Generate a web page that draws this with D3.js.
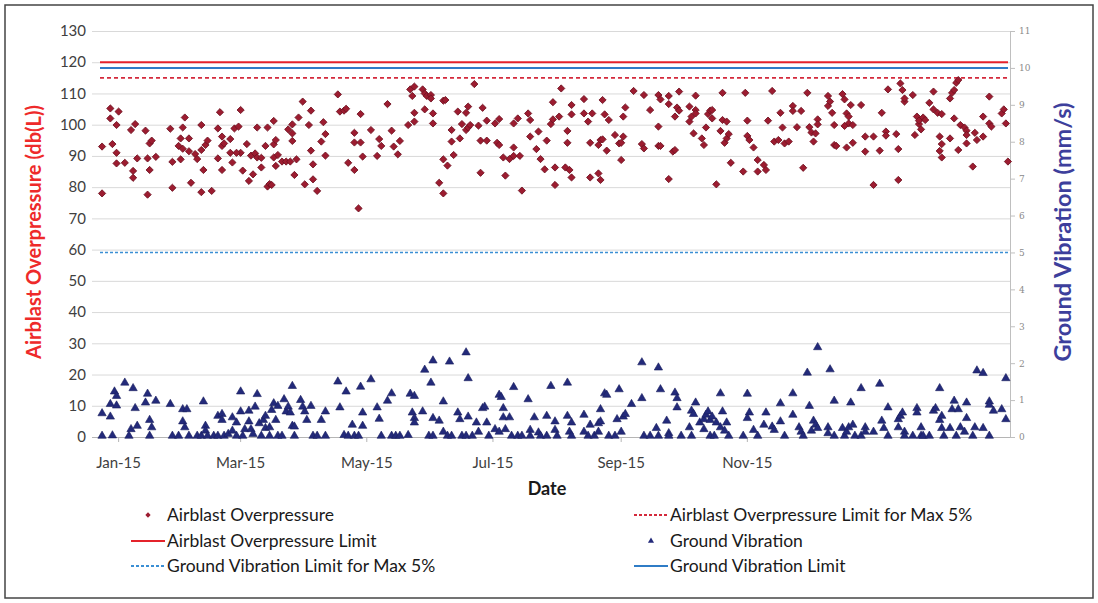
<!DOCTYPE html>
<html>
<head>
<meta charset="utf-8">
<script src="https://cdn.jsdelivr.net/npm/d3@7"></script>
<style>
  body { margin: 0; background: #fff; }
  svg { display: block; font-family: Lato, "Open Sans", sans-serif; }
</style>
</head>
<body>
<div id="chart"></div>
<script>
// day offsets from 1 Jan 2015, value
const startDate = new Date(2015, 0, 1);
const xDomainDays = [-9, 431];
const xTickLabels = ["Jan-15", "Mar-15", "May-15", "Jul-15", "Sep-15", "Nov-15"];
const xTickMonths = [0, 2, 4, 6, 8, 10];
const leftTicks = d3.range(0, 131, 10);
const rightTicks = d3.range(0, 12, 1);

const airblastLimit = 120;
const airblastLimit5 = 115;
const vibrationLimit = 10;
const vibrationLimit5 = 5;

const airblast = [
  [-8,93.0],[-8,78.0],[-4,105.2],[-4,102.0],[-1,99.9],[-3,93.8],[-1,91.0],[-1,87.6],[0,104.2],[3,87.8],[6,98.3],[7,85.2],[7,83.0],[8,100.2],[9,89.2],[13,98.1],[14,89.2],[14,77.6],[15,94.0],[16,94.9],[15,85.5],[18,89.7],[25,98.7],[26,88.1],[26,79.8],[30,95.6],[29,93.2],[30,88.9],[31,99.1],[32,102.3],[31,92.3],[34,95.6],[34,91.5],[35,81.4],[37,90.6],[38,89.0],[40,99.9],[41,85.5],[40,78.4],[40,91.9],[42,93.5],[43,94.9],[45,78.8],[48,98.8],[48,89.2],[49,104.0],[50,93.2],[50,96.2],[50,85.5],[51,94.0],[54,95.4],[54,91.0],[55,87.9],[56,98.8],[58,99.4],[59,104.7],[59,91.0],[57,91.0],[60,85.3],[62,93.8],[63,82.0],[64,90.1],[65,84.1],[66,90.8],[67,99.1],[67,89.5],[69,86.3],[69,89.4],[71,93.2],[72,80.2],[73,81.0],[74,80.7],[72,99.1],[75,101.2],[75,89.5],[75,93.7],[76,95.1],[76,86.8],[77,90.3],[79,88.2],[81,88.2],[82,98.5],[83,88.2],[84,97.2],[84,94.8],[84,100.1],[85,83.9],[86,88.9],[87,102.3],[89,107.4],[90,80.9],[92,99.9],[93,104.5],[93,91.7],[94,87.3],[94,82.5],[96,78.8],[98,94.6],[99,100.8],[100,97.0],[100,90.1],
  [106,109.7],[107,104.2],[109,104.5],[110,105.1],[111,87.8],[114,97.4],[114,94.3],[114,85.5],[117,103.4],[117,94.3],[118,89.8],[116,73.2],[122,98.3],[125,90.0],[126,95.4],[127,93.2],[130,106.6],[132,98.1],[133,93.0],[135,90.5],[136,94.8],[140,99.9],[141,111.3],[143,112.2],[142,109.2],[143,103.8],[143,101.0],[147,111.3],[148,110.0],[148,104.9],[149,109.2],[151,109.5],[151,108.4],[152,103.6],[152,100.4],[155,81.4],[157,88.9],[157,78.0],[157,107.7],[158,107.9],[159,86.9],[161,94.6],[161,98.3],[162,90.3],[164,104.2],[165,95.6],[166,100.2],[168,103.8],[168,98.3],[169,105.8],[169,99.1],[170,99.9],[172,113.0],[174,99.7],[175,94.9],[175,84.6],[176,105.4],[178,101.3],[178,94.9],[182,100.4],[183,94.2],[184,93.5],[184,101.8],[186,89.5],[187,83.7],[189,89.0],[191,100.4],[191,92.7],[191,90.0],[193,102.0],[194,90.0],[195,78.9],[198,103.6],[199,101.5],[199,96.2],[202,92.2],[203,97.8],[204,89.0],[206,85.7],[207,94.9],[209,100.2],[210,107.2],[210,101.7],[211,86.3],[211,80.7],[213,102.6],
  [214,111.6],[216,86.3],[217,98.0],[217,94.2],[218,85.5],[219,83.1],[219,106.3],[219,103.3],[225,108.2],[225,103.6],[227,101.0],[228,94.2],[228,83.1],[229,103.6],[232,84.4],[232,93.5],[233,82.3],[233,95.1],[234,95.3],[234,107.9],[235,103.3],[236,91.7],[237,101.5],[240,96.7],[242,94.0],[243,94.2],[244,96.2],[243,88.7],[244,102.6],[245,105.5],[249,110.8],[253,93.8],[254,92.4],[254,109.5],[257,104.7],[261,99.4],[261,109.5],[261,93.2],[262,108.1],[262,93.2],[266,109.2],[266,106.6],[266,82.6],[268,91.4],[269,91.9],[269,102.6],[270,105.5],[271,104.5],[271,110.6],[276,105.8],[276,101.0],[277,102.6],[278,97.2],[279,104.7],[279,109.3],[279,103.6],[282,95.6],[283,93.5],[284,99.1],[285,103.4],[286,104.5],[287,102.0],[287,104.7],[289,80.9],[291,98.0],[292,110.2],[292,101.5],[293,94.2],[294,95.6],[294,101.0],[295,97.0],[296,87.8],[302,85.0],[303,110.2],[304,96.4],[304,101.3],[305,95.1],[307,92.7],[309,88.7],[309,85.0],[312,87.1],[313,85.5],[314,101.3],[316,110.8],[317,94.6],[319,95.1],[320,103.8],[321,99.1],[322,94.0],[324,94.6],
  [326,106.0],[326,104.4],[328,99.2],[330,104.4],[331,86.2],[333,110.2],[334,99.2],[335,97.5],[336,94.6],[337,97.2],[338,101.7],[338,100.1],[343,109.2],[343,106.0],[344,107.4],[345,103.8],[346,93.5],[346,99.9],[347,93.2],[350,109.8],[351,108.1],[352,92.7],[352,103.6],[353,100.4],[354,106.3],[355,99.9],[355,94.2],[351,99.6],[353,102.6],[359,106.3],[361,96.2],[361,91.4],[365,96.2],[365,80.7],[368,91.7],[369,103.8],[372,111.3],[371,97.8],[371,96.5],[376,97.0],[377,92.2],[377,82.3],[378,113.2],[379,111.1],[380,107.4],[380,108.4],[384,109.5],[385,96.7],[386,102.6],[387,100.2],[388,98.5],[387,101.3],[389,102.3],[390,101.5],[392,107.0],[394,110.6],[394,104.9],[396,103.8],[397,96.2],[398,103.4],[398,93.8],[397,91.6],[398,89.5],[402,95.6],[402,108.4],[403,110.2],[404,111.1],[405,113.4],[406,114.3],[404,102.0],[406,91.9],[407,99.9],[409,99.1],[410,98.1],[410,94.0],[410,96.7],[413,86.6],[414,97.4],[415,95.1],[418,102.6],[418,96.2],[421,100.4],[421,109.0],[422,99.4],[427,103.6],[428,104.9],[429,100.4],[430,88.2]
];

const vibration = [
  [-8,0.64],[-8,0.03],[-4,0.89],[-4,0.55],[-3,0.04],[-2,1.23],[-1,0.85],[-1,1.11],[3,1.47],[5,0.03],[6,0.21],[7,1.32],[8,0.78],[9,0.30],[13,0.93],[14,1.17],[15,0.03],[15,0.46],[16,0.26],[18,0.98],[25,0.89],[26,0.03],[29,0.03],[31,0.75],[31,0.42],[32,0.26],[33,0.75],[34,0.03],[38,0.03],[40,0.03],[41,0.96],[42,0.30],[42,0.17],[43,0.03],[46,0.03],[48,0.57],[48,0.03],[50,0.62],[50,0.46],[51,0.03],[53,0.08],[55,0.17],[55,0.53],[57,0.03],[57,0.39],[59,1.23],[59,0.69],[60,0.03],[61,0.21],[63,0.71],[63,0.42],[64,0.21],[65,0.08],[66,0.82],[67,1.16],[68,0.37],[69,0.03],[70,0.46],[71,0.57],[71,0.24],[73,0.03],[73,0.26],[74,0.73],[75,0.91],[76,0.46],[77,0.84],[77,0.03],[79,0.03],[80,1.02],[81,0.69],[82,0.82],[83,0.66],[84,0.30],[84,1.38],[85,0.03],[85,0.28],[88,1.00],[89,0.82],[90,0.69],[91,0.46],[93,0.84],[94,0.03],[96,0.03],[98,0.46],[100,0.69],[100,0.03],
  [106,1.50],[107,0.80],[110,1.23],[109,0.05],[111,0.03],[113,0.33],[114,0.03],[116,0.03],[117,1.36],[118,0.66],[118,0.30],[122,1.56],[125,0.80],[126,0.49],[127,0.03],[130,0.98],[132,1.18],[132,0.03],[134,0.03],[136,0.03],[140,0.05],[141,1.17],[143,1.11],[142,0.66],[143,0.51],[143,0.39],[147,0.69],[148,1.82],[150,0.03],[151,1.47],[152,2.07],[152,0.51],[152,0.03],[155,0.44],[157,0.96],[157,0.14],[159,0.03],[160,2.04],[161,0.03],[164,0.66],[165,0.48],[166,0.03],[168,0.03],[168,2.29],[169,1.59],[169,0.55],[171,0.03],[173,0.39],[174,0.14],[176,0.78],[177,0.82],[178,0.39],[179,0.03],[182,0.21],[184,0.14],[184,1.14],[185,1.08],[186,0.78],[186,0.53],[187,0.21],[189,0.53],[190,0.03],[191,1.35],[193,0.03],[195,0.03],[198,1.02],[199,0.19],[199,0.03],[201,0.53],[203,0.12],[204,0.03],[207,0.03],[207,0.57],[209,1.38],[211,0.42],[211,0.19],[212,0.03],
  [217,1.47],[217,0.57],[219,0.39],[218,0.14],[219,0.03],[225,0.14],[225,0.60],[227,0.03],[228,0.33],[230,0.03],[232,0.37],[232,0.14],[233,0.75],[233,0.42],[235,1.18],[236,1.14],[237,0.03],[240,0.03],[241,0.48],[242,1.29],[243,0.14],[244,0.55],[245,0.62],[248,0.89],[253,2.02],[253,1.05],[254,0.03],[257,0.03],[260,0.24],[261,1.88],[261,0.03],[262,1.29],[265,0.44],[266,0.10],[266,0.03],[269,1.20],[270,1.05],[270,0.80],[272,0.03],[276,0.26],[277,0.71],[277,0.03],[278,0.62],[279,0.93],[281,0.39],[283,0.48],[283,0.21],[284,0.60],[285,0.69],[286,0.46],[287,0.55],[286,0.03],[288,0.03],[289,0.39],[291,1.18],[291,0.26],[292,0.69],[293,0.17],[294,0.39],[295,0.03],[302,0.03],[304,1.17],[305,0.66],[304,0.51],[307,0.19],[309,0.03],[313,0.66],[312,0.33],[316,0.28],[317,0.19],[320,0.91],[320,0.42],[322,0.03],
  [326,1.18],[326,0.60],[329,0.26],[330,0.14],[331,0.03],[333,1.74],[334,0.84],[335,0.17],[336,0.44],[337,0.33],[338,2.43],[338,0.24],[343,0.26],[343,0.10],[344,1.83],[346,0.03],[346,0.98],[350,0.24],[351,0.03],[352,0.14],[353,0.26],[354,0.93],[355,0.33],[356,0.03],[359,1.32],[359,0.03],[361,0.26],[361,0.14],[365,0.14],[368,1.44],[369,0.44],[370,0.24],[372,0.80],[372,0.03],[377,0.48],[377,0.26],[378,0.57],[379,0.66],[380,0.14],[380,0.03],[384,0.03],[386,0.78],[386,0.66],[388,0.26],[388,0.03],[389,0.03],[392,0.03],[394,0.71],[395,0.78],[397,1.32],[397,0.46],[398,0.24],[398,0.57],[399,0.03],[402,0.24],[403,0.75],[404,0.98],[405,0.03],[406,0.75],[407,0.26],[409,0.14],[410,0.51],[410,0.93],[413,0.03],[414,0.26],[415,1.80],[418,0.24],[418,1.73],[421,0.96],[421,0.87],[421,0.03],[423,0.71],[427,0.75],[429,1.59],[429,0.48]
];

const width = 1098;
const height = 603;
const plot = { left: 100, right: 1010, top: 31, bottom: 437 };

const red = "#e4232b";
const redDash = "#d42a3c";
const blue = "#2f7cc6";
const blueDash = "#3b8fd4";
const diamondFill = "#9c1c30";
const triFill = "#232a7a";

const dayDate = d => d3.timeDay.offset(startDate, d);

const svg = d3.select("#chart")
  .append("svg")
  .attr("width", width)
  .attr("height", height);

svg.append("rect")
  .attr("x", 5).attr("y", 5)
  .attr("width", width - 10).attr("height", height - 10)
  .attr("fill", "#fff")
  .attr("stroke", "#444")
  .attr("stroke-width", 1.5);

const x = d3.scaleTime()
  .domain(xDomainDays.map(dayDate))
  .range([plot.left, plot.right]);

const yLeft = d3.scaleLinear().domain([0, 130]).range([plot.bottom, plot.top]);
const yRight = d3.scaleLinear().domain([0, 11]).range([plot.bottom, plot.top]);

// gridlines + left labels
svg.append("g")
  .selectAll("line")
  .data(leftTicks)
  .join("line")
  .attr("x1", plot.left - 8)
  .attr("x2", plot.right)
  .attr("y1", d => yLeft(d) + 0.5)
  .attr("y2", d => yLeft(d) + 0.5)
  .attr("stroke", d => d === 0 ? "#b5b5b5" : "#d9d9d9")
  .attr("stroke-width", 1);

svg.append("g")
  .selectAll("text")
  .data(leftTicks)
  .join("text")
  .attr("x", 86)
  .attr("y", d => yLeft(d))
  .attr("dy", "0.35em")
  .attr("text-anchor", "end")
  .attr("font-size", 15)
  .attr("fill", "#404040")
  .text(d => d);

// right axis
const rightAxis = svg.append("g")
  .attr("transform", `translate(${plot.right},0)`)
  .call(d3.axisRight(yRight).tickValues(rightTicks).tickSize(5).tickPadding(4));
rightAxis.select(".domain").attr("stroke", "#bfbfbf");
rightAxis.selectAll(".tick line").attr("stroke", "#bfbfbf");
rightAxis.selectAll("text")
  .attr("font-size", 9)
  .attr("font-family", "'DejaVu Serif', serif")
  .attr("fill", "#8a8a8a");

// x axis labels
const xTicks = xTickMonths.map(m => new Date(2015, m, 1));
svg.append("g")
  .selectAll("line")
  .data(xTicks)
  .join("line")
  .attr("x1", d => x(d)).attr("x2", d => x(d))
  .attr("y1", plot.bottom).attr("y2", plot.bottom + 5)
  .attr("stroke", "#b5b5b5");

svg.append("g")
  .selectAll("text")
  .data(xTicks)
  .join("text")
  .attr("x", d => x(d))
  .attr("y", 468)
  .attr("text-anchor", "middle")
  .attr("font-size", 15)
  .attr("fill", "#404040")
  .text((d, i) => xTickLabels[i]);

// limit lines
const limits = [
  { value: yLeft(airblastLimit), color: red, dash: null, w: 2 },
  { value: yRight(vibrationLimit), color: blue, dash: null, w: 2 },
  { value: yLeft(airblastLimit5), color: redDash, dash: "4,3", w: 1.6 },
  { value: yRight(vibrationLimit5), color: blueDash, dash: "3,2", w: 1.6 }
];
svg.append("g")
  .selectAll("line")
  .data(limits)
  .join("line")
  .attr("x1", x(dayDate(xDomainDays[0])))
  .attr("x2", x(dayDate(xDomainDays[1])) - 2)
  .attr("y1", d => d.value)
  .attr("y2", d => d.value)
  .attr("stroke", d => d.color)
  .attr("stroke-width", d => d.w)
  .attr("stroke-dasharray", d => d.dash);

// airblast diamonds
const diamond = d3.symbol().type(d3.symbolSquare).size(26);
svg.append("g")
  .selectAll("path")
  .data(airblast)
  .join("path")
  .attr("d", diamond)
  .attr("transform", d => `translate(${x(dayDate(d[0]))},${yLeft(d[1])}) rotate(45)`)
  .attr("fill", diamondFill)
  .attr("stroke", "#6e1020")
  .attr("stroke-width", 0.8);

// vibration triangles
const tri = d3.symbol().type(d3.symbolTriangle).size(30);
svg.append("g")
  .selectAll("path")
  .data(vibration)
  .join("path")
  .attr("d", tri)
  .attr("transform", d => `translate(${x(dayDate(d[0]))},${yRight(d[1])})`)
  .attr("fill", triFill)
  .attr("stroke", "#1a1f5e")
  .attr("stroke-width", 0.6);

// axis titles
svg.append("text")
  .attr("transform", "translate(41,232) rotate(-90)")
  .attr("text-anchor", "middle")
  .attr("font-size", 20)
  .attr("font-weight", "bold")
  .attr("fill", "#ee2a2a")
  .text("Airblast Overpressure (db(L))");

svg.append("text")
  .attr("transform", "translate(1071,232) rotate(-90)")
  .attr("text-anchor", "middle")
  .attr("font-size", 23.5)
  .attr("font-weight", "bold")
  .attr("fill", "#3d3f9c")
  .text("Ground Vibration (mm/s)");

svg.append("text")
  .attr("x", 547)
  .attr("y", 495)
  .attr("text-anchor", "middle")
  .attr("font-size", 18)
  .attr("font-weight", "bold")
  .attr("fill", "#1a1a1a")
  .text("Date");

// legend
const legendItems = [
  { label: "Airblast Overpressure", kind: "diamond", col: 0, row: 0 },
  { label: "Airblast Overpressure Limit for Max 5%", kind: "line", color: redDash, dash: "3,2", col: 1, row: 0 },
  { label: "Airblast Overpressure Limit", kind: "line", color: red, dash: null, col: 0, row: 1 },
  { label: "Ground Vibration", kind: "tri", col: 1, row: 1 },
  { label: "Ground Vibration Limit for Max 5%", kind: "line", color: blueDash, dash: "3,2", col: 0, row: 2 },
  { label: "Ground Vibration Limit", kind: "line", color: blue, dash: null, col: 1, row: 2 }
];
const colX = [131, 634];
const rowY = [515, 541, 566];

const lg = svg.append("g")
  .selectAll("g")
  .data(legendItems)
  .join("g")
  .attr("transform", d => `translate(${colX[d.col]},${rowY[d.row]})`);

lg.filter(d => d.kind === "line")
  .append("line")
  .attr("x1", 0).attr("x2", 34)
  .attr("stroke", d => d.color)
  .attr("stroke-width", 2)
  .attr("stroke-dasharray", d => d.dash);

lg.filter(d => d.kind === "diamond")
  .append("path")
  .attr("d", d3.symbol().type(d3.symbolSquare).size(14))
  .attr("transform", "translate(17,0) rotate(45)")
  .attr("fill", diamondFill);

lg.filter(d => d.kind === "tri")
  .append("path")
  .attr("d", d3.symbol().type(d3.symbolTriangle).size(16))
  .attr("transform", "translate(17,0)")
  .attr("fill", triFill);

lg.append("text")
  .attr("x", 36)
  .attr("dy", "0.35em")
  .attr("font-size", 17.5)
  .attr("fill", "#1a1a1a")
  .text(d => d.label);
</script>
</body>
</html>
